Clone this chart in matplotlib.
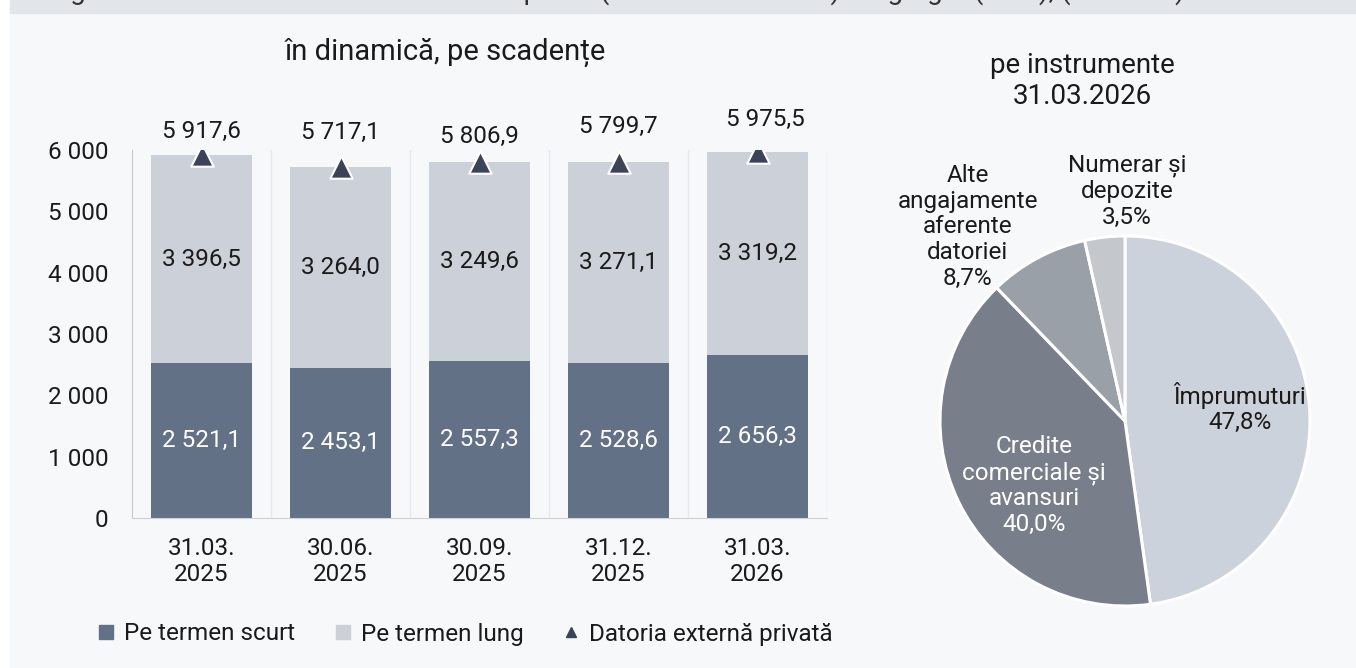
import numpy as np
import matplotlib
matplotlib.use("Agg")
import matplotlib.pyplot as plt
from matplotlib.patches import Rectangle
from matplotlib.lines import Line2D
from matplotlib.ticker import FuncFormatter

plt.rcParams['font.family'] = ['Roboto', 'DejaVu Sans']

# data
dates = ["31.03.\n2025", "30.06.\n2025", "30.09.\n2025", "31.12.\n2025", "31.03.\n2026"]
short_term = [2521.1, 2453.1, 2557.3, 2528.6, 2656.3]
long_term = [3396.5, 3264.0, 3249.6, 3271.1, 3319.2]
total = [5917.6, 5717.1, 5806.9, 5799.7, 5975.5]

pie_labels = ["Împrumuturi", "Credite\ncomerciale și\navansuri",
              "Alte\nangajamente\naferente\ndatoriei", "Numerar și\ndepozite"]
pie_values = [47.8, 40.0, 8.7, 3.5]

c_short = "#637186"
c_long = "#cbd0d9"
c_tri = "#3d4356"
pie_colors = ["#cbd2db", "#787f8a", "#9aa0a8", "#c4c7cc"]
txt = "#1a1a1a"
fs = 17.5


def fmt(v, dec=1):
    s = f"{v:,.{dec}f}"
    return s.replace(",", " ").replace(".", ",")


fig = plt.figure(figsize=(13.56, 6.68), dpi=100, facecolor="white")
# panel background + header band (title cut at the top edge)
fig.patches.append(Rectangle((10 / 1356, 0), 1, 1, transform=fig.transFigure,
                             color="#f7f8fa", zorder=-10))
fig.patches.append(Rectangle((10 / 1356, 1 - 13 / 668), 1, 13 / 668,
                             transform=fig.transFigure, color="#e2e5ea", zorder=-9))
fig.text(48 / 1356, 1 + 1 / 668,
         "Figura 11. Datoria externă a sectorului privat (sectorul nebancar) – agregat (total), (mil. USD)",
         fontsize=20, color="#333333", va="baseline", ha="left")

# ---- bar chart
ax = fig.add_axes([132 / 1356, 150 / 668, 695 / 1356, 368 / 668])
ax.set_facecolor("none")
x = np.arange(len(dates))
w = 0.72
ax.bar(x, short_term, w, color=c_short, zorder=2)
ax.bar(x, long_term, w, bottom=short_term, color=c_long, zorder=2)
ax.scatter(x, total, marker="^", s=260, color=c_tri, edgecolor="white",
           linewidth=1.5, zorder=4)

for i in range(len(dates)):
    ax.text(x[i], short_term[i] / 2, fmt(short_term[i]), ha="center", va="center",
            color="white", fontsize=fs, zorder=5)
    ax.text(x[i], short_term[i] + long_term[i] / 2, fmt(long_term[i]), ha="center",
            va="center", color=txt, fontsize=fs, zorder=5)

offsets = [(0, 17), (0, 25), (0, 18), (0, 26), (6, 23)]
for i in range(len(dates)):
    dx, dy = offsets[i]
    ax.annotate(fmt(total[i]), (x[i], total[i]), xytext=(dx, dy),
                textcoords="offset points", ha="center", va="center",
                fontsize=fs, color=txt, zorder=5)
ax.annotate("", (x[4] + 0.02, total[4] + 60), xytext=(x[4] + 0.06, total[4] + 230),
            arrowprops=dict(arrowstyle="-", color="#a0a0a0", lw=1.2), zorder=3)

for b in np.arange(0.5, len(dates), 1):
    ax.axvline(b, color="#e6e8ec", lw=1, zorder=1)

ax.set_xlim(-0.5, len(dates) - 0.5)
ax.set_ylim(0, 6000)
ax.set_yticks(np.arange(0, 6001, 1000))
ax.yaxis.set_major_formatter(FuncFormatter(lambda v, p: fmt(v, 0)))
ax.set_xticks(x)
ax.set_xticklabels(dates, linespacing=1.15)
ax.tick_params(axis="y", length=0, pad=17, labelsize=fs, labelcolor=txt)
ax.tick_params(axis="x", length=0, pad=14, labelsize=fs, labelcolor=txt)
for s in ["top", "right"]:
    ax.spines[s].set_visible(False)
ax.spines["left"].set_color("#c8c8c8")
ax.spines["bottom"].set_color("#d0d0d0")

fig.text(445 / 1356, 1 - 52 / 668, "în dinamică, pe scadențe", ha="center",
         va="center", fontsize=21, color=txt)

# ---- pie chart
pax = fig.add_axes([(1125 - 185) / 1356, (668 - 421 - 185) / 668, 370 / 1356, 370 / 668])
pax.pie(pie_values, colors=pie_colors, startangle=90, counterclock=False,
        wedgeprops=dict(edgecolor="white", linewidth=2.2))
pax.set_xlim(-1, 1)
pax.set_ylim(-1, 1)

label_pos = [(0.62, 0.07), (-0.49, -0.35), (-0.85, 1.05), (0.01, 1.24)]
label_col = [txt, "white", txt, txt]
for lab, v, (px, py), c in zip(pie_labels, pie_values, label_pos, label_col):
    pax.text(px, py, lab + "\n" + fmt(v) + "%", ha="center", va="center",
             fontsize=fs, color=c, linespacing=1.15)

fig.text(1082 / 1356, 1 - 81 / 668, "pe instrumente\n31.03.2026", ha="center",
         va="center", fontsize=20, color=txt, linespacing=1.2)

# ---- legend
handles = [
    Line2D([], [], marker="s", ls="", color=c_short, markersize=9.5),
    Line2D([], [], marker="s", ls="", color=c_long, markersize=9.5),
    Line2D([], [], marker="^", ls="", color=c_tri, markersize=6.5),
]
fig.legend(handles, ["Pe termen scurt", "Pe termen lung", "Datoria externă privată"],
           loc="center", bbox_to_anchor=(465 / 1356, 34 / 668), ncol=3, frameon=False,
           fontsize=17.5, handlelength=0.7, handletextpad=0.4, columnspacing=1.6,
           labelcolor=txt)

fig.savefig("out.png", dpi=100, facecolor=fig.get_facecolor())
